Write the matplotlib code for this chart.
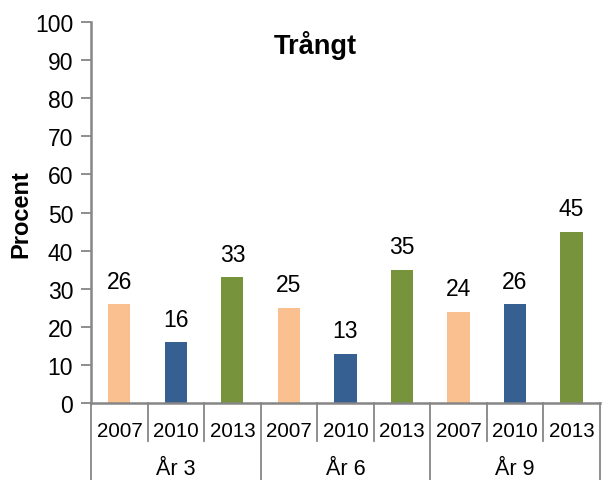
import numpy as np
import matplotlib
matplotlib.use("Agg")
import matplotlib.pyplot as plt
import matplotlib.transforms as mtrans

plt.rcParams['font.family'] = ['Liberation Sans', 'DejaVu Sans']

years = ["2007", "2010", "2013"]
groups = ["År 3", "År 6", "År 9"]
values = [26, 16, 33, 25, 13, 35, 24, 26, 45]
colors = ["#FAC090", "#376092", "#77933C"]

fig = plt.figure(figsize=(6.04, 4.81), dpi=100)
ax = fig.add_axes([0.151, 0.160, 0.842, 0.792])

x = np.arange(len(values))
bar_colors = [colors[i % 3] for i in range(len(values))]
bars = ax.bar(x, values, width=0.39, color=bar_colors)

for xi, v in zip(x, values):
    ax.text(xi, v + 3, str(v), ha='center', va='bottom', fontsize=16.5)

ax.set_xlim(-0.5, len(values) - 0.5)
ax.set_ylim(0, 100)
ax.set_yticks(range(0, 101, 10))
ax.tick_params(axis='y', labelsize=16.5, length=7, width=1.3, color='#868686', pad=6)
ax.set_xticks([])

for s in ['top', 'right']:
    ax.spines[s].set_visible(False)
for s in ['left', 'bottom']:
    ax.spines[s].set_color('#868686')
    ax.spines[s].set_linewidth(1.8)

ax.set_ylabel("Procent", fontsize=17, fontweight='bold', labelpad=1.5)
ax.text(0.44, 0.94, "Trångt", transform=ax.transAxes, ha='center', va='center',
        fontsize=19.5, fontweight='bold')

# kategoriaxel med två nivåer
tr = mtrans.blended_transform_factory(ax.transData, ax.transAxes)
for i in range(len(values) + 1):
    edge = i - 0.5
    if i % 3 == 0:
        y0 = -0.205
    else:
        y0 = -0.1
    ax.plot([edge, edge], [0, y0], transform=tr, color='#868686', lw=1.3,
            clip_on=False)

for xi in x:
    ax.text(xi, -0.073, years[xi % 3], transform=tr, ha='center', va='center',
            fontsize=14.8)

for g, name in enumerate(groups):
    ax.text(g * 3 + 1, -0.172, name, transform=tr, ha='center', va='center',
            fontsize=15.5)

fig.savefig("out.png", dpi=100)
